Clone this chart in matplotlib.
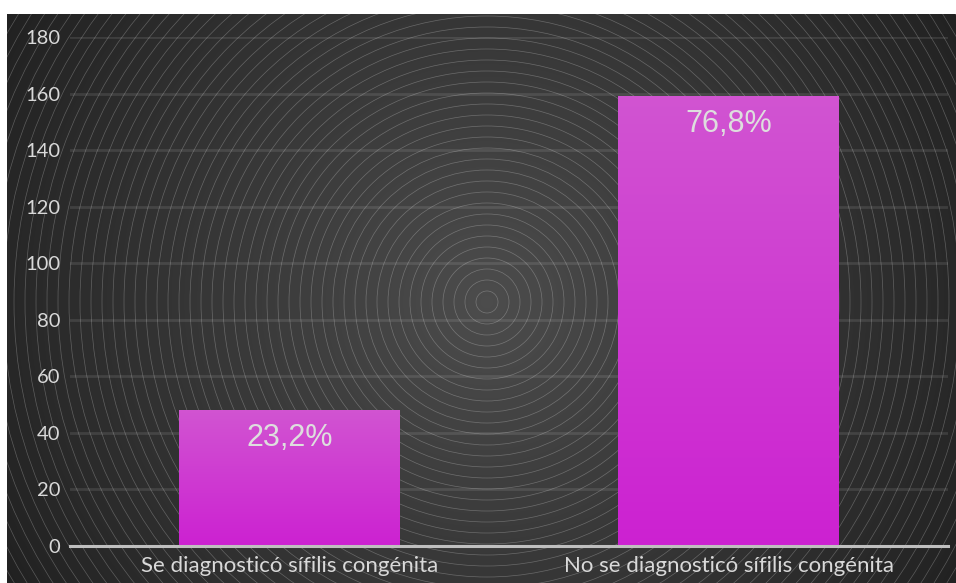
import numpy as np
import matplotlib
matplotlib.use("Agg")
import matplotlib.pyplot as plt
from matplotlib.patches import Circle

# data
categories = ["Se diagnosticó sífilis congénita", "No se diagnosticó sífilis congénita"]
counts = [48, 159]
pct_labels = ["23,2%", "76,8%"]
yticks = [0, 20, 40, 60, 80, 100, 120, 140, 160, 180]

W, H = 956, 583
fig = plt.figure(figsize=(W / 100, H / 100), dpi=100)
fig.patch.set_facecolor("white")

# dark background with radial gradient and concentric rings
bg = fig.add_axes([7 / W, 0, 1 - 7 / W, (H - 14) / H])
bg.set_xlim(7, W)
bg.set_ylim(H, 14)
bg.axis("off")
cx, cy = 487, 302
xx, yy = np.meshgrid(np.linspace(7, W, 300), np.linspace(14, H, 200))
r = np.hypot(xx - cx, yy - cy) / 560.0
shade = 0.30 - 0.17 * np.clip(r, 0, 1)
img = np.dstack([shade, shade, shade])
bg.imshow(img, extent=(7, W, H, 14), aspect="auto", interpolation="bilinear", zorder=0)
for rad in np.arange(11, 700, 11):
    bg.add_patch(Circle((cx, cy), rad, fill=False, ec="white", lw=0.5,
                        alpha=0.25, zorder=1))

# main chart
ax = fig.add_axes([70 / W, (H - 546) / H, (948 - 70) / W, (546 - 37) / H])
ax.patch.set_alpha(0)
x = np.arange(len(categories))
bars = ax.bar(x, counts, width=0.503, color="#cf2fcf", zorder=3)

# vertical gradient on the bars
grad = np.linspace(0, 1, 256).reshape(-1, 1)
top_c = np.array([0.82, 0.33, 0.82])
bot_c = np.array([0.80, 0.13, 0.82])
gimg = bot_c + (top_c - bot_c) * grad
gimg = gimg.reshape(256, 1, 3)
for b in bars:
    x0, w, h = b.get_x(), b.get_width(), b.get_height()
    im = ax.imshow(gimg, extent=(x0, x0 + w, 0, h), origin="lower",
                   aspect="auto", zorder=4)
    im.set_clip_path(b)

for xi, c, lab in zip(x, counts, pct_labels):
    ax.text(xi, c - 4.5, lab, ha="center", va="top", color="#dedede",
            fontsize=22, family="Liberation Sans", zorder=6)

ax.set_xlim(-0.5, 1.5)
ax.set_ylim(0, 180)
ax.set_yticks(yticks)
ax.set_xticks(x)
ax.set_xticklabels(categories, fontsize=16)
ax.yaxis.grid(True, color="white", alpha=0.1, lw=2, zorder=2)
ax.set_axisbelow(True)
for s in ["top", "right", "left"]:
    ax.spines[s].set_visible(False)
ax.spines["bottom"].set_color("#bfbfbf")
ax.spines["bottom"].set_linewidth(2.2)
ax.spines["bottom"].set_zorder(5)
ax.tick_params(axis="both", length=0, colors="#d9d9d9")
ax.tick_params(axis="y", pad=7, labelsize=14.5)
ax.tick_params(axis="x", pad=7)
for t in ax.get_xticklabels() + ax.get_yticklabels():
    t.set_family("Lato")

fig.savefig("out.png", dpi=100)
